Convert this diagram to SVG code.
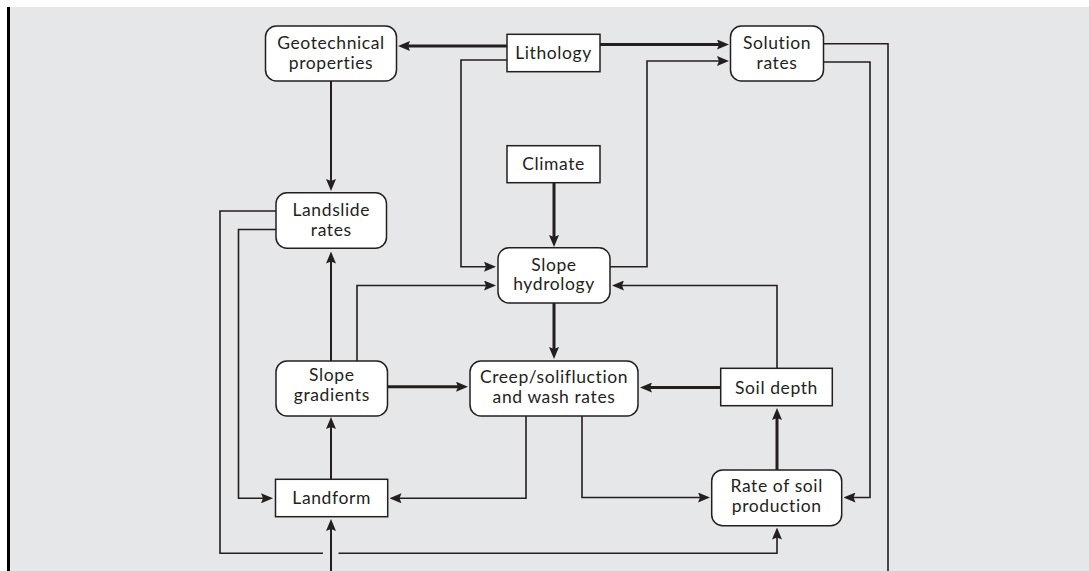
<svg xmlns="http://www.w3.org/2000/svg" width="1089" height="571" viewBox="0 0 1089 571">
<style>
.box{fill:#fff;stroke:#231f20;stroke-width:1.5}
.t{font-family:Lato,"Open Sans","Liberation Sans",sans-serif;font-size:17.5px;letter-spacing:0.6px;fill:#231f20;text-anchor:middle}
.c{fill:none;stroke:#231f20;stroke-width:1.6;marker-end:url(#ah)}
.k{fill:none;stroke:#231f20;stroke-width:3;marker-end:url(#ah)}
.m{fill:none;stroke:#231f20;stroke-width:2;marker-end:url(#ah)}
.n{fill:none;stroke:#231f20;stroke-width:1.6}
</style>
<defs>
<marker id="ah" markerUnits="userSpaceOnUse" markerWidth="12" markerHeight="10" viewBox="0 0 12 10" refX="7" refY="5" orient="auto">
<path d="M0,0 L12,5 L0,10 L2,5 z" fill="#231f20"/>
</marker>
</defs>
<rect x="0" y="0" width="1089" height="571" fill="#fff"/>
<rect x="9" y="7" width="1080" height="564" fill="#e6e7e8"/>
<rect x="7" y="7" width="3" height="564" fill="#000"/>

<g id="connectors">
<path class="k" d="M507,46 H403"/>
<path class="k" d="M600,44.5 H724"/>
<path class="c" d="M507,60 H461 V266.7 H491"/>
<path class="c" d="M610,266.7 H647 V61 H724"/>
<path class="c" d="M823.5,62 H870 V497.5 H848.5"/>
<path class="n" d="M823.5,43.7 H888 V571"/>
<path class="m" d="M331,81 V186"/>
<path class="k" d="M554,182.7 V242"/>
<path class="k" d="M554,303 V354"/>
<path class="c" d="M276,211 H220 V553.3 H323 M338.5,553.3 H777 V532.5"/>
<path class="c" d="M276,229.5 H238.5 V498.3 H268"/>
<path class="m" d="M331,361 V256.5"/>
<path class="c" d="M357,361 V285.5 H491"/>
<path class="k" d="M387.7,386.7 H463"/>
<path class="k" d="M720.7,387.5 H645"/>
<path class="c" d="M777,368.3 V285.5 H617"/>
<path class="k" d="M777,470 V413"/>
<path class="m" d="M331,479.3 V422"/>
<path class="c" d="M526,416 V498.3 H394.5"/>
<path class="c" d="M582,416 V497.5 H705"/>
<path class="m" d="M331,571 V524"/>
</g>

<g id="geotechnical">
<rect class="box" x="265.5" y="26" width="131" height="55" rx="11"/>
<text class="t" x="331" y="49.3">Geotechnical</text>
<text class="t" x="331" y="68.5">properties</text>
</g>
<g id="lithology">
<rect class="box" x="507" y="34.3" width="93" height="37.4"/>
<text class="t" x="553.5" y="58.5">Lithology</text>
</g>
<g id="solution">
<rect class="box" x="730.5" y="26" width="93" height="55" rx="11"/>
<text class="t" x="777" y="49.3">Solution</text>
<text class="t" x="777" y="68.5">rates</text>
</g>
<g id="climate">
<rect class="box" x="507" y="145.7" width="93" height="37"/>
<text class="t" x="553.5" y="169.5">Climate</text>
</g>
<g id="landslide">
<rect class="box" x="276" y="192.7" width="110.5" height="55.6" rx="11"/>
<text class="t" x="331.3" y="216">Landslide</text>
<text class="t" x="331.3" y="236">rates</text>
</g>
<g id="hydrology">
<rect class="box" x="498" y="247.7" width="112" height="55.3" rx="11"/>
<text class="t" x="554" y="270.7">Slope</text>
<text class="t" x="554" y="290.3">hydrology</text>
</g>
<g id="gradients">
<rect class="box" x="276" y="361" width="111.5" height="55" rx="11"/>
<text class="t" x="331.8" y="381">Slope</text>
<text class="t" x="331.8" y="401">gradients</text>
</g>
<g id="creep">
<rect class="box" x="470" y="361" width="168" height="55" rx="11"/>
<text class="t" x="554" y="382.5">Creep/solifluction</text>
<text class="t" x="554" y="402.5">and wash rates</text>
</g>
<g id="soildepth">
<rect class="box" x="720.7" y="368.3" width="111.6" height="37.4"/>
<text class="t" x="776.5" y="393.5">Soil depth</text>
</g>
<g id="landform">
<rect class="box" x="275.5" y="479.3" width="112.2" height="37.4"/>
<text class="t" x="331.6" y="503.5">Landform</text>
</g>
<g id="soilproduction">
<rect class="box" x="711.7" y="470" width="130" height="55.7" rx="11"/>
<text class="t" x="776.7" y="492.3">Rate of soil</text>
<text class="t" x="776.7" y="512.3">production</text>
</g>
</svg>
